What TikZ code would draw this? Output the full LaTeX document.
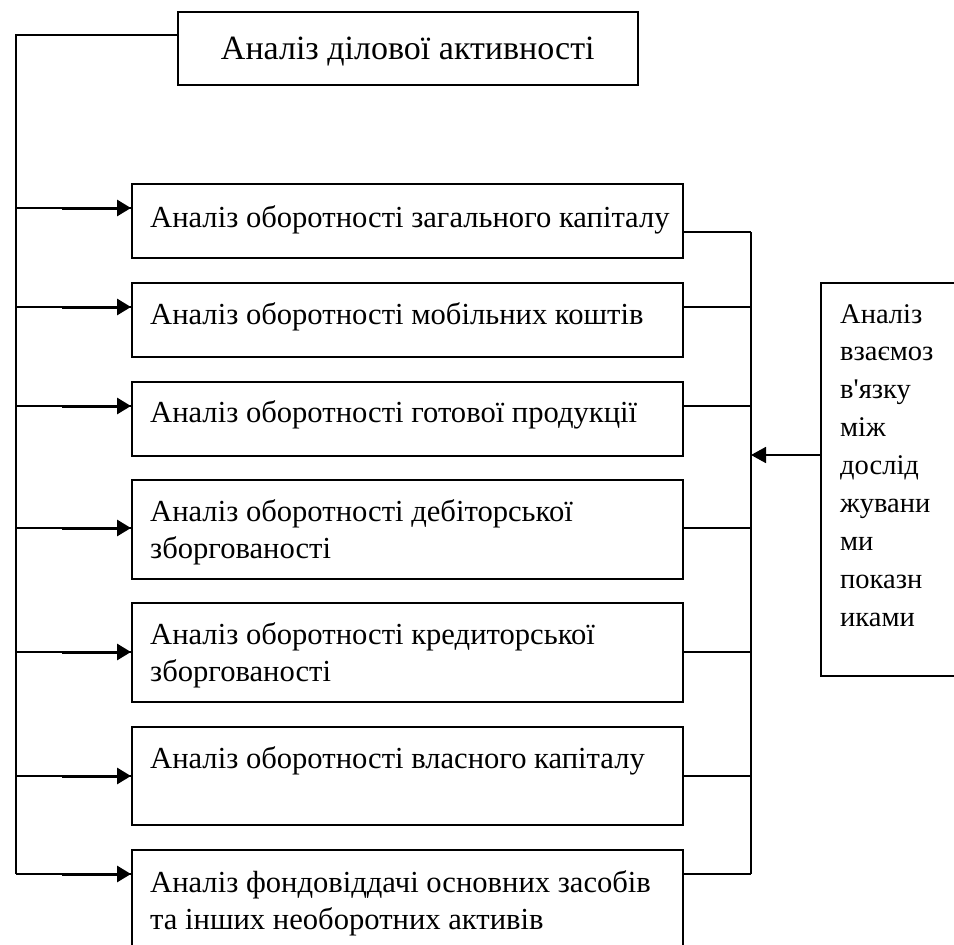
\documentclass[tikz,border=0pt]{standalone}
\usepackage{fontspec}
\newfontfamily\tnr{Liberation Serif}
\usetikzlibrary{arrows.meta,calc}
\tikzset{
  ln/.style={line width=1.6pt},
  boxn/.style={draw, line width=1.6pt, anchor=north west, inner sep=0pt, minimum width=551pt},
  txt/.style={anchor=base west, inner sep=0pt, font=\tnr\fontsize{30.6}{37.2}\selectfont},
  arr/.style={line width=3pt, -{Triangle[length=14pt,width=16pt]}},
  rarr/.style={line width=1.8pt, -{Triangle[length=15pt,width=16pt]}},
}
\begin{document}
\begin{tikzpicture}[x=1pt,y=-1pt]
\useasboundingbox (0,0) rectangle (954,945);
\clip (0,0) rectangle (954,945);
% title
\node[draw, ln, anchor=north west, minimum width=460pt, minimum height=73pt, inner sep=0pt,
      text height=23pt, text depth=0pt, font=\tnr\fontsize{34}{40}\selectfont]
      (title) at (177,11) {Аналіз ділової активності};
% boxes
\node[boxn, minimum height=74pt] (b1) at (131,183) {};
\node[boxn, minimum height=74pt] (b2) at (131,282) {};
\node[boxn, minimum height=74pt] (b3) at (131,381) {};
\node[boxn, minimum height=99pt] (b4) at (131,479) {};
\node[boxn, minimum height=99pt] (b5) at (131,602) {};
\node[boxn, minimum height=98pt] (b6) at (131,726) {};
\node[boxn, minimum height=110pt] (b7) at (131,849) {};
\node[draw, ln, anchor=north west, inner sep=0pt, minimum width=150pt, minimum height=393pt] (rbox) at (820,282) {};
% texts
\node[txt] (t1) at (150,227) {Аналіз оборотності загального капіталу};
\node[txt] (t2) at (150,324) {Аналіз оборотності мобільних коштів};
\node[txt] (t3) at (150,422) {Аналіз оборотності готової продукції};
\node[txt] (t4) at (150,521) {\vtop{\hbox{Аналіз оборотності дебіторської}\hbox{зборгованості}}};
\node[txt] (t5) at (150,644) {\vtop{\hbox{Аналіз оборотності кредиторської}\hbox{зборгованості}}};
\node[txt] (t6) at (150,768) {Аналіз оборотності власного капіталу};
\node[txt] (t7) at (150,892) {\vtop{\hbox{Аналіз фондовіддачі основних засобів}\hbox{та інших необоротних активів}}};
\node[txt, font=\tnr\fontsize{28.5}{37.9}\selectfont] (rt) at (840,323) {\vtop{\hbox{Аналіз}\hbox{взаємоз}\hbox{в'язку}\hbox{між}\hbox{дослід}\hbox{жувани}\hbox{ми}\hbox{показн}\hbox{иками}}};
% trunk coordinates
\coordinate (lt) at (16,35);
\coordinate (l1) at (16,208);
\coordinate (l2) at (16,307);
\coordinate (l3) at (16,406);
\coordinate (l4) at (16,528);
\coordinate (l5) at (16,652);
\coordinate (l6) at (16,776);
\coordinate (l7) at (16,874);
\coordinate (r1) at (751,232);
\coordinate (r2) at (751,307);
\coordinate (r3) at (751,406);
\coordinate (r4) at (751,528);
\coordinate (r5) at (751,652);
\coordinate (r6) at (751,776);
\coordinate (r7) at (751,874);
\coordinate (rm) at (751,455);
% left trunk
\draw[ln] (lt -| title.west) -- (lt) -- (l7);
\foreach \i in {1,...,7}{
  \draw[ln] (l\i) -- (l\i -| b\i.west);
  \draw[arr] ($(l\i)+(46,0)$) -- (l\i -| b\i.west);
  \draw[ln] (r\i -| b\i.east) -- (r\i);
}
% right trunk
\draw[ln] (r1) -- (r7);
\draw[rarr] (rm -| rbox.west) -- (rm);
\end{tikzpicture}
\end{document}
